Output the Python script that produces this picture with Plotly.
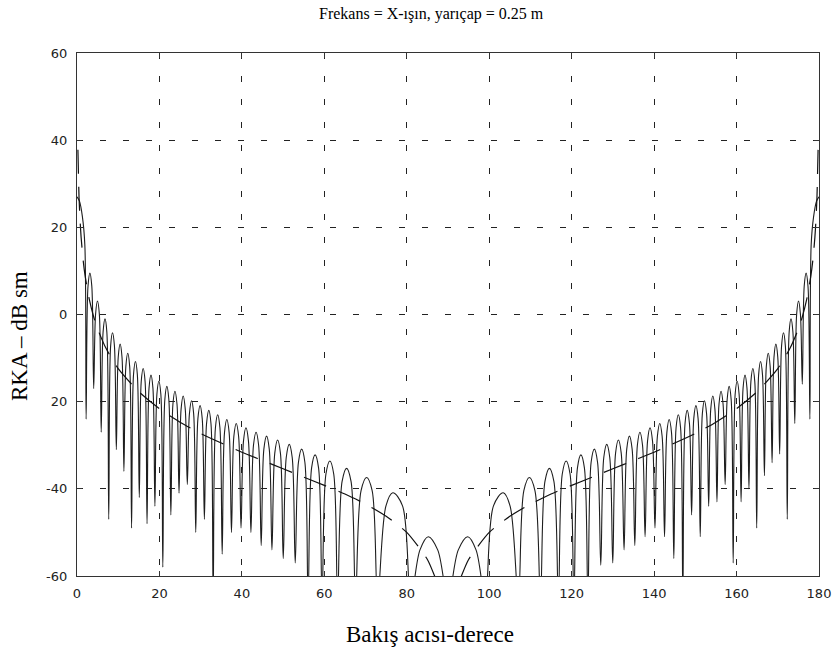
import plotly.graph_objects as go

# ---- data ----
# exact (oscillating) RCS curve, 0..90 deg
rcs_deg_left = [0, 0.6, 1.3, 1.9, 2.21, 2.67, 3.13, 3.59, 4.05, 4.51, 4.96, 5.42, 5.87, 6.33, 6.79, 7.24,
                7.70, 8.16, 8.62, 9.08, 9.54, 10.00, 10.46, 10.92, 11.38, 11.85, 12.31, 12.78, 13.24, 13.71,
                14.18, 14.64, 15.11, 15.58, 16.05, 16.52, 16.99, 17.47, 17.95, 18.42, 18.90, 19.38, 19.86,
                20.34, 20.82, 21.31, 21.80, 22.28, 22.77, 23.27, 23.76, 24.26, 24.75, 25.25, 25.76, 26.26,
                26.76, 27.27, 27.79, 28.30, 28.81, 29.33, 29.86, 30.38, 30.90, 31.43, 31.97, 32.50, 33.03,
                33.58, 34.13, 34.67, 35.22, 35.78, 36.35, 36.91, 37.47, 38.05, 38.63, 39.21, 39.79, 40.39,
                40.99, 41.59, 42.19, 42.81, 43.44, 44.06, 44.68, 45.33, 45.99, 46.64, 47.29, 47.98, 48.66,
                49.35, 50.03, 50.76, 51.49, 52.21, 52.94, 53.72, 54.50, 55.28, 56.06, 56.91, 57.76, 58.60,
                59.45, 60.39, 61.34, 62.28, 63.22, 64.31, 65.40, 66.48, 67.57, 68.91, 70.26, 71.60, 72.94,
                74.95, 76.60, 78.97, 80.98, 83.2, 85.2, 87.5, 90.0]
rcs_db_left = [27.0, 26.0, 22.5, 16.0, -24, 6.5, 9.5, 6.5, -17, 0.1, 3.1, 0.1, -27, -4.0, -1.0, -4.0,
               -47, -7.2, -4.2, -7.2, -31, -9.8, -6.8, -9.8, -36, -11.9, -8.9, -11.9, -49, -13.8,
               -10.8, -13.8, -42, -15.4, -12.4, -15.4, -48, -16.9, -13.9, -16.9, -44, -18.3, -15.3,
               -18.3, -58, -19.5, -16.5, -19.5, -46, -20.6, -17.6, -20.6, -41, -21.7, -18.7, -21.7,
               -39, -22.8, -19.8, -22.8, -50, -23.9, -20.9, -23.9, -47, -25.0, -22.0, -25.0, -65,
               -26.0, -23.0, -26.0, -55, -27.1, -24.1, -27.1, -50, -28.0, -25.0, -28.0, -49, -29.0,
               -26.0, -29.0, -50, -30.0, -27.0, -30.0, -53, -30.9, -27.9, -30.9, -54, -31.8, -28.8,
               -31.8, -56, -32.8, -29.8, -32.8, -57, -33.9, -30.9, -33.9, -65, -35.2, -32.2, -35.2,
               -65, -36.6, -33.6, -36.6, -65, -38.3, -35.3, -38.3, -65, -40.4, -37.4, -40.4, -65,
               -43.9, -40.9, -43.9, -65, -54.0, -51.0, -54.0, -65]

# exact (oscillating) RCS curve, 90..180 deg
rcs_deg_right = [92.5, 94.8, 96.8, 99.02, 101.03, 103.4, 105.05, 107.06, 108.40, 109.74, 111.09, 112.43,
                 113.52, 114.60, 115.69, 116.78, 117.72, 118.66, 119.61, 120.55, 121.40, 122.24, 123.09,
                 123.94, 124.72, 125.50, 126.28, 127.06, 127.79, 128.51, 129.24, 129.97, 130.65, 131.34,
                 132.02, 132.71, 133.36, 134.01, 134.67, 135.32, 135.94, 136.56, 137.19, 137.81, 138.41,
                 139.01, 139.61, 140.21, 140.79, 141.37, 141.95, 142.53, 143.09, 143.65, 144.22, 144.78,
                 145.33, 145.87, 146.42, 146.97, 147.50, 148.03, 148.57, 149.10, 149.62, 150.14, 150.67,
                 151.19, 151.70, 152.21, 152.73, 153.24, 153.74, 154.24, 154.75, 155.25, 155.74, 156.24,
                 156.73, 157.23, 157.72, 158.20, 158.69, 159.18, 159.66, 160.14, 160.62, 161.10, 161.58,
                 162.05, 162.53, 163.01, 163.48, 163.95, 164.42, 164.89, 165.36, 165.82, 166.29, 166.76,
                 167.22, 167.69, 168.15, 168.62, 169.08, 169.54, 170.00, 170.46, 170.92, 171.38, 171.84,
                 172.30, 172.76, 173.21, 173.67, 174.13, 174.58, 175.04, 175.49, 175.95, 176.41, 176.87,
                 177.33, 177.79, 178.1, 178.7, 179.4, 180.0]
rcs_db_right = [-54.0, -51.0, -54.0, -65, -43.9, -40.9, -43.9, -65, -40.4, -37.4, -40.4, -65, -38.3,
                -35.3, -38.3, -65, -36.6, -33.6, -36.6, -65, -35.2, -32.2, -35.2, -65, -33.9, -30.9,
                -33.9, -57.5, -32.8, -29.8, -32.8, -57, -31.8, -28.8, -31.8, -54, -30.9, -27.9, -30.9,
                -53, -30.0, -27.0, -30.0, -51, -29.0, -26.0, -29.0, -49, -28.0, -25.0, -28.0, -51,
                -27.1, -24.1, -27.1, -56, -26.0, -23.0, -26.0, -65, -25.0, -22.0, -25.0, -46, -23.9,
                -20.9, -23.9, -51, -22.8, -19.8, -22.8, -44, -21.7, -18.7, -21.7, -43, -20.6, -17.6,
                -20.6, -39, -19.5, -16.5, -19.5, -57, -18.3, -15.3, -18.3, -43, -16.9, -13.9, -16.9,
                -40, -15.4, -12.4, -15.4, -49, -13.8, -10.8, -13.8, -37, -11.9, -8.9, -11.9, -34,
                -9.8, -6.8, -9.8, -32, -7.2, -4.2, -7.2, -47, -4.0, -1.0, -4.0, -25, 0.1, 3.1, 0.1,
                -16, 6.5, 9.5, 6.5, -24, 16.0, 22.5, 26.0, 27.0]

# approximate (dashed) curve
approx_deg_left = [0.22, 0.5, 0.75, 1.0, 1.5, 2, 3, 4, 5, 7, 10, 15, 20, 25, 30, 35, 40, 45, 50, 55, 60,
                   65, 70, 75, 80, 85, 87]
approx_db_left = [37.8, 26.7, 21.5, 17.7, 12.4, 8.7, 3.4, -0.4, -3.3, -7.7, -12.4, -17.7, -21.6, -24.7,
                  -27.3, -29.5, -31.6, -33.5, -35.4, -37.3, -39.2, -41.2, -43.5, -46.3, -50.0, -56.2, -60.6]
approx_deg_right = [93, 95, 100, 105, 110, 115, 120, 125, 130, 135, 140, 145, 150, 155, 160, 165, 170,
                    173, 175, 176, 177, 178, 178.5, 179, 179.25, 179.5, 179.78]
approx_db_right = [-60.6, -56.2, -50.0, -46.3, -43.5, -41.2, -39.2, -37.3, -35.4, -33.5, -31.6, -29.5,
                   -27.3, -24.7, -21.6, -17.7, -12.4, -7.7, -3.3, -0.4, 3.4, 8.7, 12.4, 17.7, 21.5, 26.7, 37.8]

x_ticks = [0, 20, 40, 60, 80, 100, 120, 140, 160, 180]
y_ticks = [-60, -40, -20, 0, 20, 40, 60]
y_tick_text = ["-60", "-40", "20", "0", "20", "40", "60"]

title_text = "Frekans = X-ışın, yarıçap = 0.25 m"
x_title = "Bakış acısı-derece"
y_title = "RKA – dB sm"

# ---- figure ----
W, H = 837, 658
ML, MR, MT, MB = 77, 18, 53, 82
pw, ph = W - ML - MR, H - MT - MB

fig = go.Figure()
fig.add_trace(go.Scatter(
    x=rcs_deg_left + rcs_deg_right, y=rcs_db_left + rcs_db_right,
    mode="lines", line=dict(color="#1e1e1e", width=1.1, shape="spline", smoothing=1.0),
    showlegend=False, hoverinfo="skip"))
fig.add_trace(go.Scatter(
    x=approx_deg_left + [None] + approx_deg_right,
    y=approx_db_left + [None] + approx_db_right,
    mode="lines", connectgaps=False,
    line=dict(color="#111111", width=1.2, dash="24px,13px", shape="spline", smoothing=0.6),
    showlegend=False, hoverinfo="skip"))

tick_font = dict(family="DejaVu Sans, Arial, sans-serif", size=13, color="#222222")
serif = "Liberation Serif, Times New Roman, serif"

axis_common = dict(
    showline=True, linecolor="#333333", linewidth=1.4, mirror="ticks",
    ticks="inside", ticklen=5, tickwidth=1, tickcolor="#333333",
    showgrid=True, gridcolor="#222222", gridwidth=1, griddash="6px,17px",
    zeroline=False, tickfont=tick_font, automargin=False,
)
fig.update_xaxes(range=[0, 180], tickvals=x_ticks, ticktext=[str(v) for v in x_ticks],
                 ticklabelstandoff=5, **axis_common)
fig.update_yaxes(range=[-60, 60], tickvals=y_ticks, ticktext=y_tick_text,
                 ticklabelstandoff=6, **axis_common)

fig.update_layout(
    width=W, height=H,
    margin=dict(l=ML, r=MR, t=MT, b=MB, pad=0, autoexpand=False),
    paper_bgcolor="white", plot_bgcolor="white",
    annotations=[
        dict(text=title_text, xref="paper", yref="paper",
             x=(431 - ML) / pw, y=(H - MB - 14) / ph, showarrow=False,
             xanchor="center", yanchor="middle", font=dict(family=serif, size=16, color="black")),
        dict(text=x_title, xref="paper", yref="paper",
             x=(430 - ML) / pw, y=(H - MB - 634) / ph, showarrow=False,
             xanchor="center", yanchor="middle", font=dict(family=serif, size=23, color="black")),
        dict(text=y_title, xref="paper", yref="paper", textangle=-90,
             x=(19 - ML) / pw, y=(H - MB - 336) / ph, showarrow=False,
             xanchor="center", yanchor="middle", font=dict(family=serif, size=23, color="black")),
    ],
)

fig.write_html("out.html", config={"displayModeBar": False},
               post_script="document.body.style.margin='0px';")
